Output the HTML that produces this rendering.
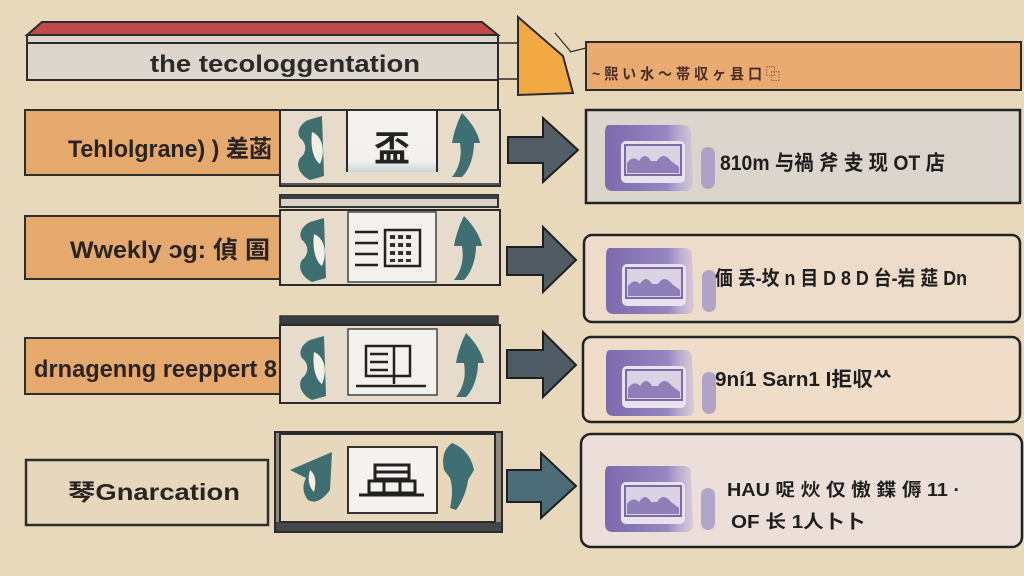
<!DOCTYPE html>
<html><head><meta charset="utf-8">
<style>
html,body{margin:0;padding:0;background:#e9d9bc;}
svg{display:block;}
text{font-family:"Liberation Sans","Noto Sans CJK SC",sans-serif;}
</style></head>
<body>
<svg width="1024" height="576" viewBox="0 0 1024 576" xmlns="http://www.w3.org/2000/svg">
<defs>
<linearGradient id="pg" x1="0" y1="0" x2="1" y2="0">
<stop offset="0" stop-color="#7c6aad"/><stop offset="0.7" stop-color="#9686c0"/><stop offset="1" stop-color="#c9bedb" stop-opacity="0.6"/>
</linearGradient>
<linearGradient id="wb" x1="0" y1="0" x2="0" y2="1">
<stop offset="0" stop-color="#f4f2ee"/><stop offset="0.82" stop-color="#f2f1ee"/><stop offset="1" stop-color="#c9d6da"/>
</linearGradient>
<g id="teal">
<path d="M20 6 L34 2 L36 62 L22 66 C10 60 8 50 12 44 C18 40 20 30 12 24 C8 18 12 10 20 6 Z" fill="#3e6e70"/>
<path d="M24 18 C34 22 38 36 32 50 C26 46 22 34 24 18 Z" fill="#f3efe6"/>
</g>
<g id="tarrow">
<path d="M16 0 C26 10 32 20 34 30 L28 30 C28 42 24 56 16 64 L6 64 C14 54 16 42 14 30 L6 30 C8 18 12 8 16 0 Z" fill="#3f6f73"/>
</g>
<g id="pic">
<path d="M4 0 L78 0 Q86 0 86 8 L88 58 Q88 66 80 66 L8 66 Q0 66 0 58 L0 8 Q0 0 4 0 Z" fill="url(#pg)"/>
<rect x="16" y="16" width="64" height="42" rx="5" fill="#e7e2ee"/>
<rect x="20" y="20" width="56" height="30" fill="#d9d3e4" stroke="#7a6aa6" stroke-width="2"/>
<path d="M22 48 L22 38 Q28 30 34 36 Q40 26 46 36 L52 36 Q58 26 66 36 L74 42 L74 48 Z" fill="#8e7fb8"/>
<rect x="96" y="22" width="14" height="42" rx="7" fill="#a396c6" opacity="0.8"/>
</g>
</defs>

<!-- Banner -->
<polygon points="42,22 482,22 498,35 27,35" fill="#c0494b" stroke="#2b2b2b" stroke-width="2"/>
<rect x="27" y="35" width="471" height="45" fill="#ddd6cc" stroke="#2b2b2b" stroke-width="2"/>
<line x1="27" y1="43" x2="498" y2="43" stroke="#2b2b2b" stroke-width="2"/>
<text x="150" y="72" font-size="24" font-weight="bold" fill="#2a2a2a" textLength="270" lengthAdjust="spacingAndGlyphs">the tecologgentation</text>
<line x1="498" y1="80" x2="498" y2="110" stroke="#2b2b2b" stroke-width="2"/>
<line x1="498" y1="43" x2="518" y2="43" stroke="#2b2b2b" stroke-width="1.5"/>
<line x1="498" y1="79" x2="518" y2="79" stroke="#2b2b2b" stroke-width="1.5"/>

<!-- Orange triangle -->
<polygon points="518,17 563,56 573,93 518,95" fill="#f2a843" stroke="#2b2b2b" stroke-width="2"/>
<line x1="555" y1="33" x2="571" y2="52" stroke="#2b2b2b" stroke-width="1.2"/>
<line x1="570" y1="52" x2="586" y2="48" stroke="#2b2b2b" stroke-width="1.2"/>

<!-- top right orange box -->
<rect x="586" y="42" width="435" height="48" fill="#e9ab72" stroke="#2b2b2b" stroke-width="2"/>
<text x="592" y="79" font-size="15" font-weight="bold" fill="#4a2c22" textLength="188" lengthAdjust="spacingAndGlyphs">~ 熙 い 水 〜 帯 収 ヶ 县 口 ⿻</text>

<!-- Row labels -->
<rect x="25" y="110" width="255" height="65" fill="#e6a96d" stroke="#2e2e2e" stroke-width="2"/>
<text x="68" y="157" font-size="24" font-weight="bold" fill="#2a2420" textLength="204" lengthAdjust="spacingAndGlyphs">Tehlolgrane) ) 差菡</text>
<rect x="25" y="216" width="255" height="63" fill="#e6a96d" stroke="#2e2e2e" stroke-width="2"/>
<text x="70" y="258" font-size="24" font-weight="bold" fill="#2a2420" textLength="200" lengthAdjust="spacingAndGlyphs">Wwekly ɔɡ: 偵 圄</text>
<rect x="25" y="338" width="255" height="56" fill="#e6a96d" stroke="#2e2e2e" stroke-width="2"/>
<text x="34" y="377" font-size="24" font-weight="bold" fill="#2a2420" textLength="243" lengthAdjust="spacingAndGlyphs">drnagenng reeppert 8</text>
<rect x="26" y="460" width="242" height="65" fill="#e6d7bd" stroke="#2e2e2e" stroke-width="2.5"/>
<text x="68" y="500" font-size="23" font-weight="bold" fill="#2a2420" textLength="172" lengthAdjust="spacingAndGlyphs">琴Gnarcation</text>

<!-- Panel 1 -->
<rect x="280" y="110" width="220" height="76" fill="#e7dccb" stroke="#2b2b2b" stroke-width="2"/>
<line x1="281" y1="184" x2="500" y2="184" stroke="#555" stroke-width="2"/>
<rect x="347" y="111" width="90" height="61" fill="url(#wb)"/>
<line x1="347" y1="111" x2="347" y2="172" stroke="#2b2b2b" stroke-width="2"/>
<line x1="437" y1="111" x2="437" y2="172" stroke="#2b2b2b" stroke-width="2"/>
<text x="392" y="161" font-size="36" font-weight="bold" fill="#222" text-anchor="middle">盃</text>
<use href="#teal" x="288" y="114"/>
<use href="#tarrow" x="446" y="113"/>

<!-- Panel 2 -->
<rect x="280" y="195" width="218" height="12" fill="#d8d2c8" stroke="#333" stroke-width="2"/>
<rect x="281" y="195" width="216" height="4" fill="#3a3f44"/>
<rect x="280" y="210" width="220" height="75" fill="#e7dccb" stroke="#2b2b2b" stroke-width="2"/>
<rect x="348" y="212" width="88" height="70" fill="#f4f2ee" stroke="#444" stroke-width="1.5"/>
<g stroke="#222" stroke-width="2.5">
<line x1="355" y1="232" x2="378" y2="232"/><line x1="355" y1="243" x2="378" y2="243"/>
<line x1="355" y1="254" x2="378" y2="254"/><line x1="355" y1="265" x2="378" y2="265"/>
</g>
<rect x="385" y="230" width="35" height="36" fill="none" stroke="#222" stroke-width="2.5"/>
<g fill="#333">
<rect x="390" y="235" width="5" height="4"/><rect x="398" y="235" width="5" height="4"/><rect x="406" y="235" width="5" height="4"/>
<rect x="390" y="243" width="5" height="4"/><rect x="398" y="243" width="5" height="4"/><rect x="406" y="243" width="5" height="4"/>
<rect x="390" y="251" width="5" height="4"/><rect x="398" y="251" width="5" height="4"/><rect x="406" y="251" width="5" height="4"/>
<rect x="390" y="259" width="5" height="3"/><rect x="398" y="259" width="5" height="3"/><rect x="406" y="259" width="5" height="3"/>
</g>
<use href="#teal" x="290" y="216"/>
<use href="#tarrow" x="448" y="216"/>

<!-- Panel 3 -->
<rect x="280" y="316" width="218" height="8" fill="#3a3f44" stroke="#333" stroke-width="1.5"/>
<rect x="280" y="325" width="220" height="78" fill="#e7dccb" stroke="#2b2b2b" stroke-width="2"/>
<rect x="348" y="329" width="89" height="66" fill="#f4f2ee" stroke="#444" stroke-width="1.5"/>
<g stroke="#222" stroke-width="2.5" fill="none">
<rect x="366" y="346" width="44" height="30"/>
<line x1="370" y1="354" x2="388" y2="354"/><line x1="370" y1="362" x2="388" y2="362"/><line x1="370" y1="370" x2="388" y2="370"/>
<line x1="394" y1="346" x2="394" y2="384"/>
<line x1="356" y1="386" x2="426" y2="386"/>
</g>
<use href="#teal" x="290" y="334"/>
<use href="#tarrow" x="450" y="333"/>

<!-- Panel 4 -->
<rect x="275" y="432" width="227" height="100" fill="#8f887c" stroke="#2b2b2b" stroke-width="2"/>
<rect x="276" y="522" width="225" height="9" fill="#45484b"/>
<rect x="280" y="434" width="215" height="88" fill="#e6d7bd" stroke="#2b2b2b" stroke-width="2"/>
<rect x="348" y="447" width="89" height="66" fill="#f5f3ef" stroke="#333" stroke-width="2"/>
<g stroke="#222" stroke-width="3" fill="none">
<rect x="375" y="465" width="34" height="14"/>
<line x1="375" y1="472" x2="409" y2="472"/>
<rect x="369" y="481" width="46" height="12"/>
<line x1="384" y1="481" x2="384" y2="493"/><line x1="400" y1="481" x2="400" y2="493"/>
<line x1="359" y1="495" x2="424" y2="495"/>
</g>
<path d="M290 470 L332 452 L330 490 Q318 506 308 500 Q300 490 306 478 Z" fill="#3e6e70"/>
<path d="M310 470 Q318 476 314 492 Q306 484 310 470 Z" fill="#f3efe6"/>
<path d="M452 443 Q470 450 474 470 L468 480 Q466 496 456 510 L450 508 Q454 490 450 478 L444 470 Q440 452 452 443 Z" fill="#3f6f73"/>

<!-- Arrows -->
<polygon points="508,137 543,137 543,118 578,150 543,182 543,163 508,163" fill="#525c64" stroke="#1f1f1f" stroke-width="2"/>
<polygon points="507,247 543,247 543,227 576,260 543,292 543,275 507,275" fill="#505b63" stroke="#1f1f1f" stroke-width="2"/>
<polygon points="507,350 543,350 543,332 576,365 543,397 543,378 507,378" fill="#4e5b64" stroke="#1f1f1f" stroke-width="2"/>
<polygon points="507,470 541,470 541,453 576,486 541,518 541,502 507,502" fill="#4c6c78" stroke="#1f1f1f" stroke-width="2"/>

<!-- Right boxes -->
<rect x="586" y="110" width="434" height="93" fill="#dcd5cd" stroke="#222" stroke-width="2.5"/>
<use href="#pic" x="605" y="125"/>
<text x="720" y="170" font-size="21" font-weight="bold" fill="#1e1e1e" textLength="225" lengthAdjust="spacingAndGlyphs">810m 与禍 斧 叏 现 OT 店</text>

<rect x="584" y="235" width="436" height="87" rx="8" fill="#eedccb" stroke="#222" stroke-width="2.5"/>
<use href="#pic" x="606" y="248"/>
<text x="715" y="285" font-size="20" font-weight="bold" fill="#1e1e1e" textLength="252" lengthAdjust="spacingAndGlyphs">偭 丢-坆 n 目 D 8 D 台-岩 莚 Dn</text>

<rect x="583" y="337" width="437" height="85" rx="8" fill="#efdcc9" stroke="#222" stroke-width="2.5"/>
<use href="#pic" x="606" y="350"/>
<text x="715" y="386" font-size="20" font-weight="bold" fill="#1e1e1e" textLength="177" lengthAdjust="spacingAndGlyphs">9ní1 Sarn1 I拒収ᄊ</text>

<rect x="581" y="434" width="441" height="113" rx="10" fill="#ecdfd9" stroke="#222" stroke-width="2.5"/>
<use href="#pic" x="605" y="466"/>
<text x="727" y="496" font-size="18" font-weight="bold" fill="#1e1e1e" textLength="233" lengthAdjust="spacingAndGlyphs">HAU 哫 炏 仅 慠 鍱 傉 11 ·</text>
<text x="731" y="528" font-size="18" font-weight="bold" fill="#1e1e1e" textLength="134" lengthAdjust="spacingAndGlyphs">OF 长 1人卜卜</text>
</svg>
</body></html>
